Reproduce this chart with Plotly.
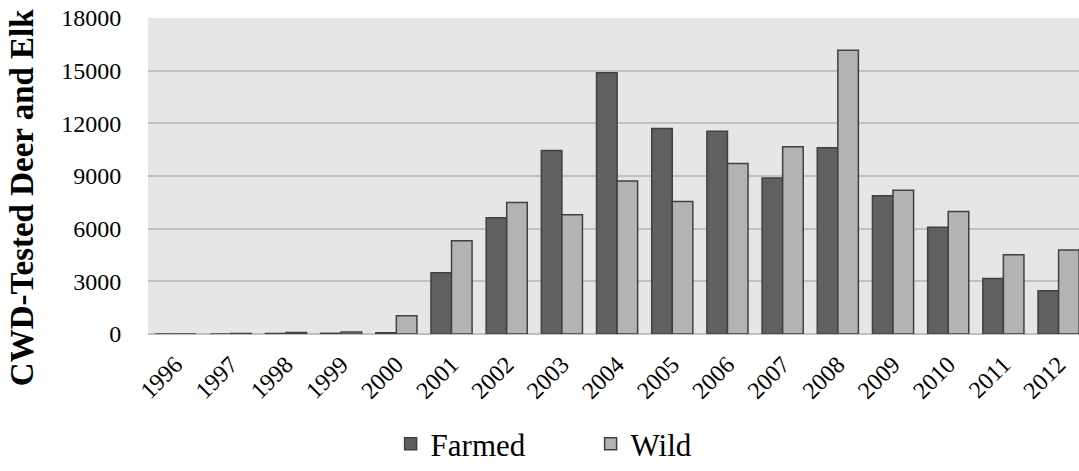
import plotly.graph_objects as go

years = [str(y) for y in range(1996, 2013)]
farmed = [0, 0, 30, 40, 70, 3490, 6620, 10450, 14880, 11700, 11545, 8890, 10615, 7870, 6085, 3165, 2465]
wild = [0, 30, 90, 110, 1040, 5310, 7490, 6790, 8720, 7550, 9705, 10670, 16170, 8190, 6980, 4510, 4780]
y_ticks = [0, 3000, 6000, 9000, 12000, 15000, 18000]
y_ticktext = [str(v) for v in y_ticks]
y_title = "CWD-Tested Deer and Elk"

FONT = "Liberation Serif"
fig = go.Figure()
fig.add_trace(go.Bar(x=years, y=farmed, name="Farmed",
                     marker=dict(color="#606060", line=dict(color="#404040", width=1.5))))
fig.add_trace(go.Bar(x=years, y=wild, name="Wild",
                     marker=dict(color="#b3b3b3", line=dict(color="#404040", width=1.5))))

fig.add_annotation(text="<b>" + y_title + "</b>", textangle=-90, xref="paper", yref="paper",
                   x=-0.1353, y=0.43, xanchor="center", yanchor="middle", showarrow=False,
                   font=dict(family=FONT, size=33, color="black"))

fig.update_layout(
    width=1079, height=471,
    margin=dict(l=148, r=0, t=18, b=137, autoexpand=False),
    paper_bgcolor="white", plot_bgcolor="#e6e6e6",
    barmode="group", bargap=0.255, bargroupgap=0,
    font=dict(family=FONT, size=24, color="black"),
    showlegend=True,
    legend=dict(orientation="h", xref="container", yref="container",
                x=0.362, xanchor="left", y=0.0, yanchor="bottom",
                font=dict(family=FONT, size=31, color="black"), entrywidth=155, itemwidth=30,
                bgcolor="rgba(0,0,0,0)"),
    xaxis=dict(type="category", range=[-0.5, 16.37], tickangle=-45, automargin=False,
               showgrid=False, showline=False, ticks="outside", ticklen=6,
               tickcolor="rgba(0,0,0,0)", tickfont=dict(family=FONT, size=24)),
    yaxis=dict(range=[0, 18000], tickvals=y_ticks, ticktext=y_ticktext, automargin=False,
               showgrid=True, gridcolor="#c0c0c0",
               gridwidth=1.5, zeroline=True, zerolinecolor="#c0c0c0", zerolinewidth=1.5,
               tickfont=dict(family=FONT, size=24), ticks="outside", ticklen=21,
               tickcolor="rgba(0,0,0,0)"),
)
fig.write_html("out.html", config={"displayModeBar": False},
               post_script="document.body.style.margin='0';")
